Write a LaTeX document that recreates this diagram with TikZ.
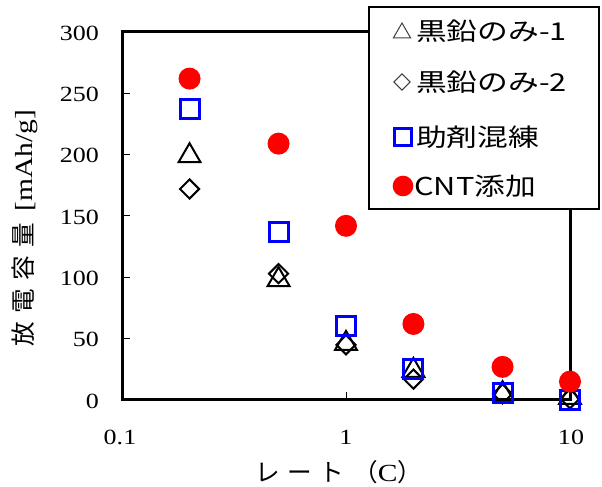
\documentclass[tikz,border=0pt]{standalone}
\usepackage{fontspec}
\newfontfamily\jp{Noto Sans CJK JP}
\newfontfamily\jpleg[FakeStretch=1.25]{Noto Sans CJK JP}
\newfontfamily\numfont[FakeStretch=1.2]{Liberation Serif}
\usetikzlibrary{shapes.geometric}

\tikzset{
  cnt/.style={circle,fill=red,inner sep=0pt,minimum size=0.66cm},
  mix/.style={rectangle,draw=blue,line width=0.09cm,inner sep=0pt,minimum size=0.57cm},
  tri/.style={regular polygon,regular polygon sides=3,draw,line width=0.06cm,inner sep=0pt,minimum size=0.76cm},
  dia/.style={diamond,draw,line width=0.06cm,inner sep=0pt,minimum width=0.6cm,minimum height=0.6cm},
  ticklabel/.style={font=\numfont\fontsize{18.5}{18.5}\selectfont,inner sep=0pt},
  axlabel/.style={font=\numfont\fontsize{21}{21}\selectfont,inner sep=0pt},
  legtext/.style={anchor=west,font=\jpleg\fontsize{21}{21}\selectfont,inner sep=0pt},
}

\begin{document}
\begin{tikzpicture}[x=0.03cm,y=-0.03cm,
  declare function={px(\r)=346+224*ln(\r)/2.302585; py(\v)=400-1.2267*\v;}]
\useasboundingbox (0,0) rectangle (602,487);
\fill[white] (0,0) rectangle (602,487);

% frame and ticks
\draw[line width=0.09cm] (122,32) rectangle (570,400);
\foreach \v in {50,100,...,250}
  \draw[line width=0.03cm] (122,{py(\v)}) -- (130,{py(\v)});
\draw[line width=0.03cm] (346,400) -- (346,392);

% tick labels
\foreach \v in {0,50,...,300}
  \node[ticklabel,anchor=east] (y\v) at (99,{py(\v)+1}) {\v};
\node[ticklabel] (x01) at (120,437) {0.1};
\node[ticklabel] (x1) at (346,437) {1};
\node[ticklabel] (x10) at (571,437) {10};

% axis titles
\node[axlabel] (xtitle) at (339,472)
  {{\jp レ\kern6pt ー\kern6pt ト\kern8pt （}C{\jp ）}};
\node[axlabel,rotate=90] (ytitle) at (25,228)
  {{\jp 放\kern7pt 電\kern7pt 容\kern7pt 量}\kern10pt[mAh/g]};

% data
\foreach \r/\v [count=\i] in {0.2/199,0.5/98,1/46,2/24,5/5,10/2}
  \node[tri] (t\i) at ({px(\r)},{py(\v)}) {};
\foreach \r/\v [count=\i] in {0.2/172,0.5/103,1/45,2/17,5/5,10/1}
  \node[dia] (d\i) at ({px(\r)},{py(\v)}) {};
\foreach \r/\v [count=\i] in {0.2/237,0.5/137,1/60,2/25,5/6,10/0}
  \node[mix] (s\i) at ({px(\r)},{py(\v)}) {};
\foreach \r/\v [count=\i] in {0.2/262,0.5/209,1/142,2/62,5/27,10/15}
  \node[cnt] (c\i) at ({px(\r)},{py(\v)}) {};

% legend
\draw[fill=white,line width=0.04cm] (369,7) rectangle (599,209);
\node[tri,draw=black!75,line width=0.03cm,minimum size=0.6cm] (ltri) at (402,33) {};
\node[dia,draw=black!75,line width=0.03cm,minimum width=0.5cm,minimum height=0.5cm] (ldia) at (402,82) {};
\node[mix,minimum size=0.51cm] (lsq) at (403,137) {};
\node[cnt,minimum size=0.62cm] (lcir) at (403,186) {};
\node[legtext] (l1) at (416,31) {黒鉛のみ-1};
\node[legtext] (l2) at (416,82) {黒鉛のみ-2};
\node[legtext] (l3) at (416,137) {助剤混練};
\node[legtext] (l4) at (414,186) {CNT添加};
\end{tikzpicture}
\end{document}
